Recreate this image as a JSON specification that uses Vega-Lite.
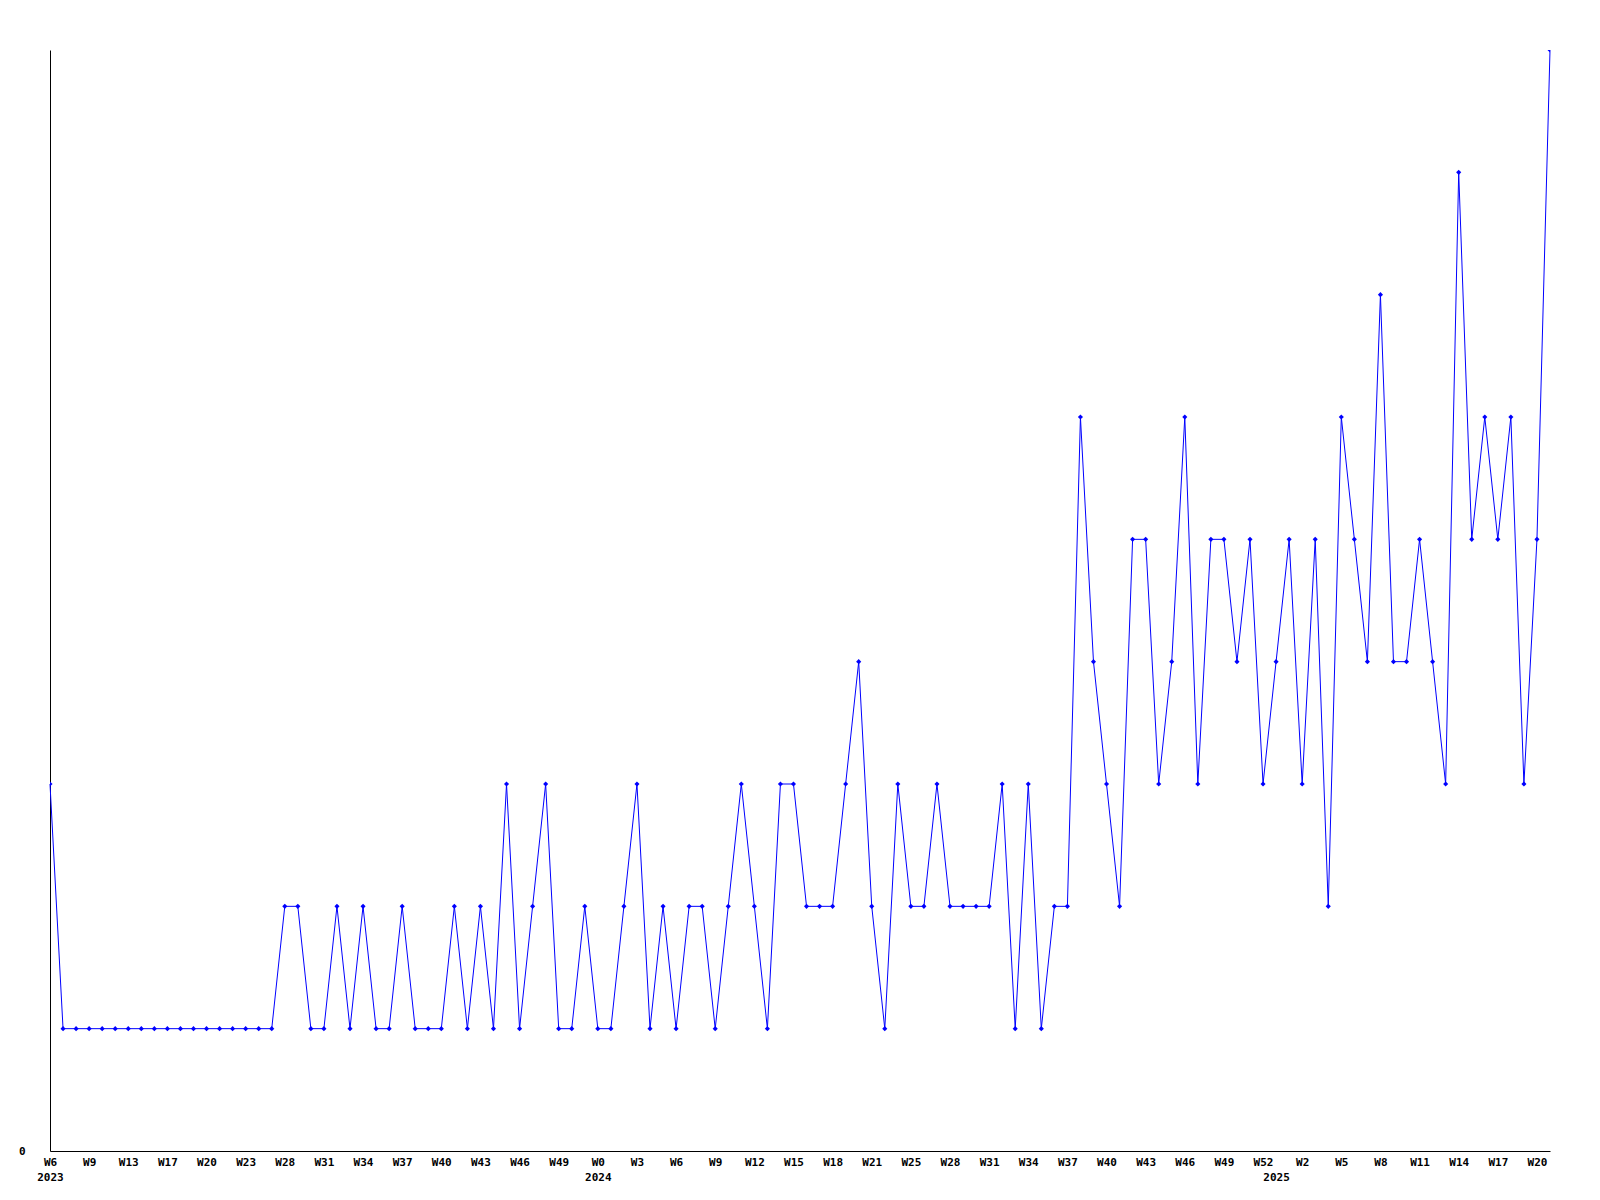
{
  "$schema": "https://vega.github.io/schema/vega-lite/v6.json",
  "width": 1500,
  "height": 1101,
  "autosize": {"type": "none"},
  "padding": {"left": 50, "top": 50, "right": 50, "bottom": 49},
  "background": "white",
  "config": {
    "view": {"stroke": null},
    "axis": {
      "labelFont": "DejaVu Sans Mono",
      "labelFontWeight": "bold",
      "labelFontSize": 11,
      "labelColor": "black",
      "domainColor": "black",
      "domainWidth": 1,
      "ticks": false,
      "grid": false,
      "title": null
    }
  },
  "data": {
    "values": [
      {"key": "2023 W6", "value": 3},
      {"key": "2023 W7", "value": 1},
      {"key": "2023 W8", "value": 1},
      {"key": "2023 W9", "value": 1},
      {"key": "2023 W10", "value": 1},
      {"key": "2023 W11", "value": 1},
      {"key": "2023 W13", "value": 1},
      {"key": "2023 W14", "value": 1},
      {"key": "2023 W15", "value": 1},
      {"key": "2023 W17", "value": 1},
      {"key": "2023 W18", "value": 1},
      {"key": "2023 W19", "value": 1},
      {"key": "2023 W20", "value": 1},
      {"key": "2023 W21", "value": 1},
      {"key": "2023 W22", "value": 1},
      {"key": "2023 W23", "value": 1},
      {"key": "2023 W24", "value": 1},
      {"key": "2023 W25", "value": 1},
      {"key": "2023 W28", "value": 2},
      {"key": "2023 W29", "value": 2},
      {"key": "2023 W30", "value": 1},
      {"key": "2023 W31", "value": 1},
      {"key": "2023 W32", "value": 2},
      {"key": "2023 W33", "value": 1},
      {"key": "2023 W34", "value": 2},
      {"key": "2023 W35", "value": 1},
      {"key": "2023 W36", "value": 1},
      {"key": "2023 W37", "value": 2},
      {"key": "2023 W38", "value": 1},
      {"key": "2023 W39", "value": 1},
      {"key": "2023 W40", "value": 1},
      {"key": "2023 W41", "value": 2},
      {"key": "2023 W42", "value": 1},
      {"key": "2023 W43", "value": 2},
      {"key": "2023 W44", "value": 1},
      {"key": "2023 W45", "value": 3},
      {"key": "2023 W46", "value": 1},
      {"key": "2023 W47", "value": 2},
      {"key": "2023 W48", "value": 3},
      {"key": "2023 W49", "value": 1},
      {"key": "2023 W50", "value": 1},
      {"key": "2023 W51", "value": 2},
      {"key": "2024 W0", "value": 1},
      {"key": "2024 W1", "value": 1},
      {"key": "2024 W2", "value": 2},
      {"key": "2024 W3", "value": 3},
      {"key": "2024 W4", "value": 1},
      {"key": "2024 W5", "value": 2},
      {"key": "2024 W6", "value": 1},
      {"key": "2024 W7", "value": 2},
      {"key": "2024 W8", "value": 2},
      {"key": "2024 W9", "value": 1},
      {"key": "2024 W10", "value": 2},
      {"key": "2024 W11", "value": 3},
      {"key": "2024 W12", "value": 2},
      {"key": "2024 W13", "value": 1},
      {"key": "2024 W14", "value": 3},
      {"key": "2024 W15", "value": 3},
      {"key": "2024 W16", "value": 2},
      {"key": "2024 W17", "value": 2},
      {"key": "2024 W18", "value": 2},
      {"key": "2024 W19", "value": 3},
      {"key": "2024 W20", "value": 4},
      {"key": "2024 W21", "value": 2},
      {"key": "2024 W22", "value": 1},
      {"key": "2024 W23", "value": 3},
      {"key": "2024 W25", "value": 2},
      {"key": "2024 W26", "value": 2},
      {"key": "2024 W27", "value": 3},
      {"key": "2024 W28", "value": 2},
      {"key": "2024 W29", "value": 2},
      {"key": "2024 W30", "value": 2},
      {"key": "2024 W31", "value": 2},
      {"key": "2024 W32", "value": 3},
      {"key": "2024 W33", "value": 1},
      {"key": "2024 W34", "value": 3},
      {"key": "2024 W35", "value": 1},
      {"key": "2024 W36", "value": 2},
      {"key": "2024 W37", "value": 2},
      {"key": "2024 W38", "value": 6},
      {"key": "2024 W39", "value": 4},
      {"key": "2024 W40", "value": 3},
      {"key": "2024 W41", "value": 2},
      {"key": "2024 W42", "value": 5},
      {"key": "2024 W43", "value": 5},
      {"key": "2024 W44", "value": 3},
      {"key": "2024 W45", "value": 4},
      {"key": "2024 W46", "value": 6},
      {"key": "2024 W47", "value": 3},
      {"key": "2024 W48", "value": 5},
      {"key": "2024 W49", "value": 5},
      {"key": "2024 W50", "value": 4},
      {"key": "2024 W51", "value": 5},
      {"key": "2024 W52", "value": 3},
      {"key": "2025 W0", "value": 4},
      {"key": "2025 W1", "value": 5},
      {"key": "2025 W2", "value": 3},
      {"key": "2025 W3", "value": 5},
      {"key": "2025 W4", "value": 2},
      {"key": "2025 W5", "value": 6},
      {"key": "2025 W6", "value": 5},
      {"key": "2025 W7", "value": 4},
      {"key": "2025 W8", "value": 7},
      {"key": "2025 W9", "value": 4},
      {"key": "2025 W10", "value": 4},
      {"key": "2025 W11", "value": 5},
      {"key": "2025 W12", "value": 4},
      {"key": "2025 W13", "value": 3},
      {"key": "2025 W14", "value": 8},
      {"key": "2025 W15", "value": 5},
      {"key": "2025 W16", "value": 6},
      {"key": "2025 W17", "value": 5},
      {"key": "2025 W18", "value": 6},
      {"key": "2025 W19", "value": 3},
      {"key": "2025 W20", "value": 5},
      {"key": "2025 W21", "value": 9}
    ]
  },
  "encoding": {
    "x": {
      "field": "key",
      "type": "ordinal",
      "sort": null,
      "scale": {"type": "point", "padding": 0},
      "axis": {
        "values": ["2023 W6","2023 W9","2023 W13","2023 W17","2023 W20","2023 W23","2023 W28","2023 W31","2023 W34","2023 W37","2023 W40","2023 W43","2023 W46","2023 W49","2024 W0","2024 W3","2024 W6","2024 W9","2024 W12","2024 W15","2024 W18","2024 W21","2024 W25","2024 W28","2024 W31","2024 W34","2024 W37","2024 W40","2024 W43","2024 W46","2024 W49","2024 W52","2025 W0","2025 W2","2025 W5","2025 W8","2025 W11","2025 W14","2025 W17","2025 W20"],
        "labelExpr": "datum.value == '2025 W0' ? ['', '2025'] : ((datum.value == '2023 W6' || datum.value == '2024 W0') ? [split(datum.value, ' ')[1], split(datum.value, ' ')[0]] : split(datum.value, ' ')[1])",
        "labelAngle": 0,
        "labelPadding": 5,
        "labelLineHeight": 15,
        "labelBaseline": "top",
        "labelAlign": "center",
        "labelOverlap": false,
        "labelFlush": false,
        "labelBound": false
      }
    },
    "y": {
      "field": "value",
      "type": "quantitative",
      "scale": {"domain": [0, 9], "nice": false, "zero": true},
      "axis": {"values": [0], "labelPadding": 25, "labelFlush": false}
    }
  },
  "layer": [
    {"mark": {"type": "line", "color": "#0000ff", "strokeWidth": 1}},
    {"mark": {"type": "point", "shape": "diamond", "filled": true, "color": "#0000ff", "size": 26, "opacity": 1, "clip": true}}
  ]
}
